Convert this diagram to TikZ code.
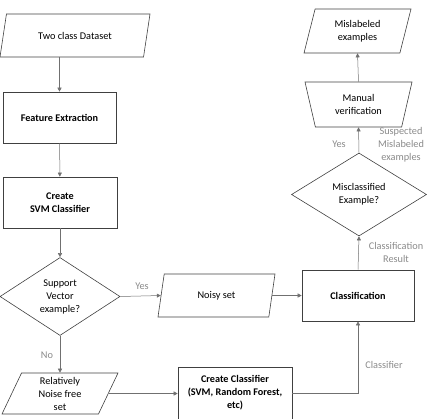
\documentclass[tikz,border=0pt]{standalone}
\usepackage{fontspec}
\setmainfont{Carlito}
\usetikzlibrary{arrows.meta,shapes.geometric}

\definecolor{LineGray}{HTML}{404040}
\definecolor{ArrowGray}{HTML}{707070}
\definecolor{LabelGray}{HTML}{8A8A8A}

\begin{document}
\begin{tikzpicture}[
                x=1pt, y=-1pt,
                font=\fontsize{10.3}{13}\selectfont,
                Flow/.style={-{Triangle[length=4pt, width=4pt]}, draw=ArrowGray, line width=0.5pt},
                ProcessBox/.style={draw=LineGray, line width=0.6pt, align=center, text=black, font=\fontsize{10.2}{13}\selectfont\bfseries},
                DataBox/.style={draw=LineGray, line width=0.6pt, align=center, text=black, trapezium, trapezium stretches body, inner sep=1pt},
                DecisionBox/.style={draw=LineGray, line width=0.6pt, align=center, text=black, diamond, inner sep=0pt},
                EdgeLabel/.style={text=LabelGray, align=center, inner sep=0pt},
            ]
            \useasboundingbox (0,0) rectangle (428,418);

            % left column
            \node [DataBox, trapezium left angle=55, trapezium right angle=125, minimum width=150pt, minimum height=43pt] (data) at (75,35.5) {Two class Dataset};
            \node [ProcessBox, minimum width=113pt, minimum height=51pt] (feat) at (59.5,117.5) {Feature Extraction};
            \node [ProcessBox, minimum width=114pt, minimum height=51pt] (svm) at (60,202.5) {Create\\SVM Classifier};
            \node [DecisionBox, minimum width=120pt, minimum height=78pt] (support) at (60,296.5) {Support\\Vector\\example?};
            \node [DataBox, trapezium left angle=61, trapezium right angle=119, minimum width=116pt, minimum height=41pt] (noisefree) at (60,393.5) {Relatively\\Noise free\\set};

            % middle
            \node [DataBox, trapezium left angle=60, trapezium right angle=120, minimum width=117pt, minimum height=43pt] (noisy) at (216.5,295.5) {Noisy set};
            \node [ProcessBox, minimum width=114pt, minimum height=52pt] (createclf) at (235,393) {Create Classifier\\(SVM, Random Forest,\\etc)};

            % right column
            \node [ProcessBox, minimum width=112pt, minimum height=51pt] (classif) at (358,295.5) {Classification};
            \node [DecisionBox, minimum width=135pt, minimum height=83pt] (miscl) at (359,194.5) {Misclassified\\Example?};
            \node [DataBox, trapezium left angle=115, trapezium right angle=115, minimum width=107pt, minimum height=45pt] (manual) at (358.5,104.5) {Manual\\verification};
            \node [DataBox, trapezium left angle=65, trapezium right angle=115, minimum width=107pt, minimum height=44pt] (mislabeled) at (357.5,31) {Mislabeled\\examples};

            % connectors
            \draw [Flow] (data.south -| feat.north) -- (feat.north);
            \draw [Flow] (feat) -- (svm);
            \draw [Flow] (svm) -- (support);
            \draw [Flow] (support.east) -- (noisy.west);
            \draw [Flow] (support.south) -- (noisefree.north -| support.south);
            \draw [Flow] (noisefree.east) -- (noisefree.east -| createclf.west);
            \draw [Flow] (noisy.east) -- (noisy.east -| classif.west);
            \draw [Flow] (createclf.east) -| (classif.south);
            \draw [Flow] (classif.north) -- (miscl.south);
            \draw [Flow] (miscl.north) -- (manual.south);
            \draw [Flow] (manual.north) -- (mislabeled.south);

            % labels
            \node [EdgeLabel] (yes1) at (142,286) {Yes};
            \node [EdgeLabel] (no1) at (47,355) {No};
            \node [EdgeLabel] (clflabel) at (384,365) {Classifier};
            \node [EdgeLabel] (reslabel) at (396,252.5) {Classification\\Result};
            \node [EdgeLabel] (yes2) at (339,144) {Yes};
            \node [EdgeLabel] (susplabel) at (401,144.5) {Suspected\\Mislabeled\\examples};
        \end{tikzpicture}
\end{document}
